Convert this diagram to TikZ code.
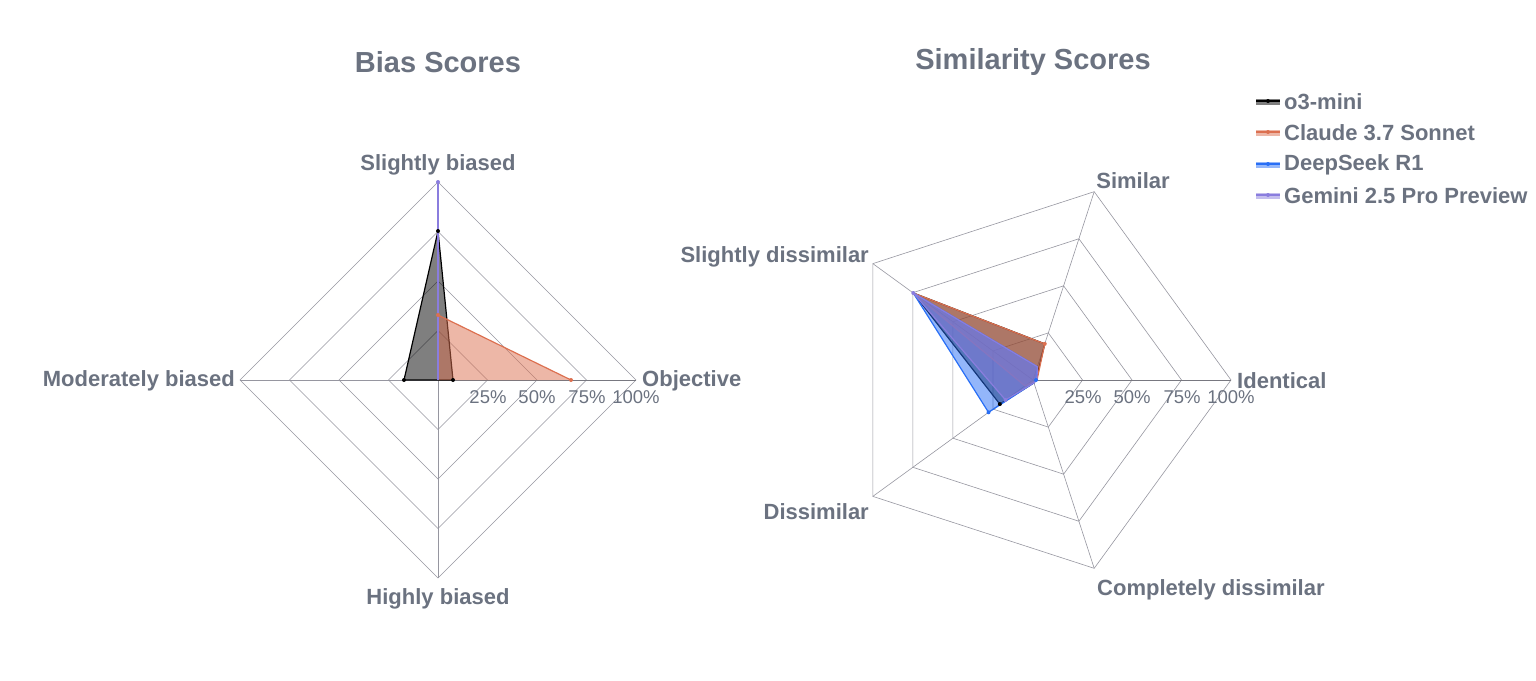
\documentclass[tikz,border=0pt]{standalone}
\usepackage{fontspec}
\setmainfont{Liberation Sans}
\begin{document}
\begin{tikzpicture}[x=1pt,y=-1pt,
  lab/.style={font=\fontsize{22}{24}\selectfont\bfseries,text=txt,inner sep=0pt},
  tick/.style={font=\fontsize{18.5}{22}\selectfont,text=txt,inner sep=0pt},
  ttl/.style={font=\fontsize{29}{32}\selectfont\bfseries,text=txt,inner sep=0pt},
  grid/.style={draw=gridc,line width=0.6pt},
  o3/.style={draw=black,fill=black,fill opacity=0.5,line width=1.2pt,line join=round},
  cl/.style={draw=orc,fill=orc,fill opacity=0.5,line width=1.2pt,line join=round},
  ds/.style={draw=blc,fill=blc,fill opacity=0.5,line width=1.2pt,line join=round},
  gm/.style={draw=puc,fill=puc,fill opacity=0.5,line width=1.2pt,line join=round}]
\definecolor{txt}{RGB}{107,114,128}
\definecolor{gridc}{RGB}{150,150,160}
\definecolor{orc}{RGB}{220,112,80}
\definecolor{blc}{RGB}{40,110,245}
\definecolor{puc}{RGB}{138,125,222}
\useasboundingbox (0,0) rectangle (1536,680);
\node[ttl] (t1) at (438,62) {Bias Scores};
\node[ttl] (t2) at (1033,62) {Similarity Scores};
% left radar
\begin{scope}[shift={(438,380)},yscale=-1]
\foreach \r in {49.5,99,148.5,198}
  \draw[grid] (0:\r) -- (90:\r) -- (180:\r) -- (270:\r) -- cycle;
\foreach \a in {90,180,270} \draw[grid] (0,0) -- (\a:198);
\draw[gridc!80!black,line width=0.8pt] (0,0) -- (0:198);
\fill[black,opacity=0.5] (90:149) -- (0:15) -- (0,0) -- (180:34) -- cycle;
\draw[black,line width=1.2pt,line join=round] (90:149) -- (0:15) -- (0,0) -- (180:34) -- cycle;
\fill[orc,opacity=0.5] (90:65) -- (0:133) -- (0,0) -- cycle;
\draw[orc,line width=1.2pt,line join=round] (90:65) -- (0:133);
\draw[blc,line width=1.2pt] (0,0) -- (90:198);
\draw[puc,line width=1.2pt] (0,0) -- (90:198);
\foreach \p in {(90:149),(0:15),(180:34)} \fill[black] \p circle (2pt);
\fill[orc] (0:133) circle (2pt); \fill[orc] (90:65) circle (2pt);
\fill[puc] (90:198) circle (2pt);
\end{scope}
\node[lab,anchor=south] (l1) at (438,175) {Slightly biased};
\node[lab,anchor=west] (l2) at (642,381) {Objective};
\node[lab,anchor=north] (l3) at (438,588) {Highly biased};
\node[lab,anchor=east] (l4) at (235,381) {Moderately biased};
\node[tick] (k1) at (488,397) {25\%};
\node[tick] (k2) at (537,397) {50\%};
\node[tick] (k3) at (587,397) {75\%};
\node[tick] (k4) at (636,397) {100\%};
% right radar
\begin{scope}[shift={(1033,380)},yscale=-1]
\foreach \r in {49.5,99,148.5,198}
  \draw[grid] (0:\r) -- (72:\r) -- (144:\r) -- (216:\r) -- (288:\r) -- cycle;
\foreach \a in {72,144,216,288} \draw[grid] (0,0) -- (\a:198);
\draw[gridc!80!black,line width=0.8pt] (0,0) -- (0:198);
\path[o3] (0:3) -- (72:38) -- (144:148) -- (216:41) -- (288:3) -- cycle;
\path[cl] (0:4) -- (72:38) -- (144:148) -- (216:10) -- (288:2) -- cycle;
\path[ds] (0:3) -- (72:14) -- (144:148) -- (216:55) -- (288:3) -- cycle;
\path[gm] (0:4) -- (72:14) -- (144:148) -- (216:34) -- (288:3) -- cycle;
\fill[orc] (72:38) circle (2pt);
\fill[black] (216:41) circle (2pt);
\fill[blc] (216:55) circle (2pt); \fill[blc] (0:3) circle (2pt);
\fill[puc] (144:148) circle (2pt); \fill[puc] (216:34) circle (2pt);
\end{scope}
\node[lab,anchor=south] (r1) at (1133,189) {Similar};
\node[lab,anchor=east] (r2) at (869,257) {Slightly dissimilar};
\node[lab,anchor=east] (r3) at (869,512) {Dissimilar};
\node[lab,anchor=west] (r4) at (1097,590) {Completely dissimilar};
\node[lab,anchor=west] (r5) at (1237,381) {Identical};
\node[tick] (m1) at (1083,397) {25\%};
\node[tick] (m2) at (1132,397) {50\%};
\node[tick] (m3) at (1182,397) {75\%};
\node[tick] (m4) at (1231,397) {100\%};
% legend
\foreach \y/\c/\t [count=\i] in {101/black/o3-mini,132/orc/Claude 3.7 Sonnet,164/blc/DeepSeek R1,195/puc/Gemini 2.5 Pro Preview}{
  \fill[\c,opacity=0.5] (1256,\y-2) rectangle (1280,\y+4);
  \draw[\c,line width=1.2pt] (1256,\y) -- (1280,\y);
  \fill[\c] (1268,\y) circle (2pt);
  \node[lab,anchor=west] (g\i) at (1284,\y+1) {\t};
}
\end{tikzpicture}
\end{document}
